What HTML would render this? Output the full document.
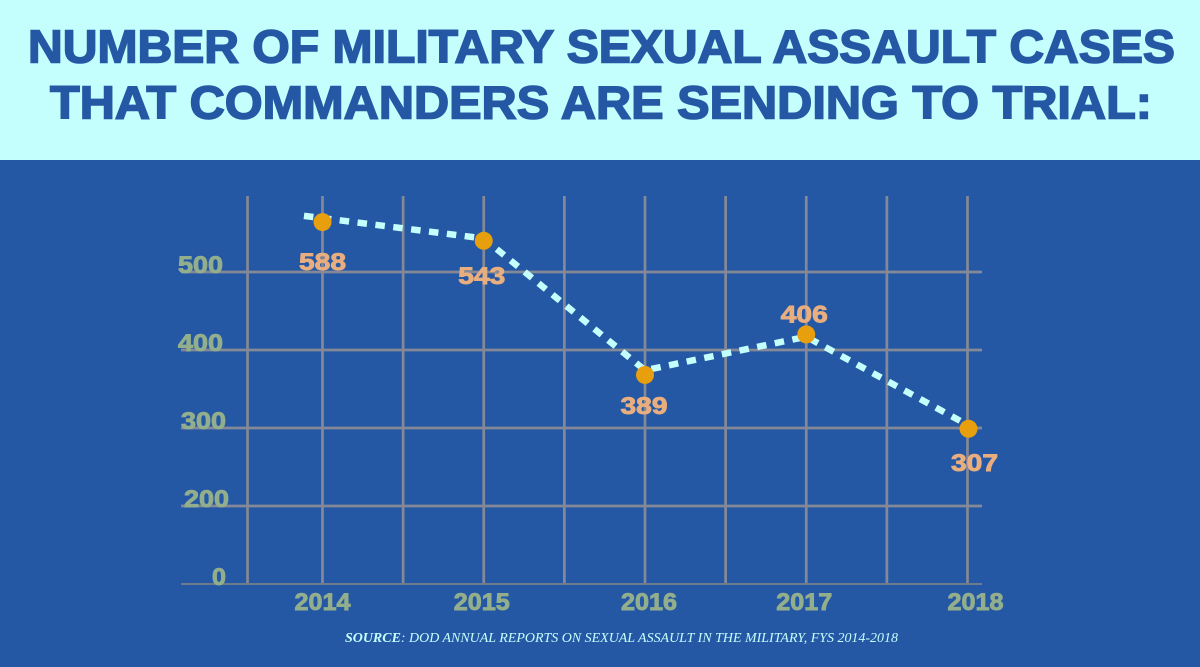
<!DOCTYPE html>
<html lang="en">
<head>
<meta charset="utf-8">
<title>Number of military sexual assault cases that commanders are sending to trial</title>
<style>
html,body{margin:0;padding:0;background:#2458a4;}
body{width:1200px;height:667px;overflow:hidden;}
svg{display:block;}
text{font-family:"Liberation Sans",sans-serif;}
</style>
</head>
<body>
<svg id="chart" width="1200" height="667" viewBox="0 0 1200 667" xmlns="http://www.w3.org/2000/svg">
  <rect x="0" y="0" width="1200" height="667" fill="#2458a4"/>
  <rect x="0" y="0" width="1200" height="160" fill="#c4fefd"/>
  <text x="28" y="62.5" font-size="46.5" font-weight="700" fill="#2458a4" stroke="#2458a4" stroke-width="1.6" textLength="1147" lengthAdjust="spacingAndGlyphs">NUMBER OF MILITARY SEXUAL ASSAULT CASES</text>
  <text x="50" y="118.5" font-size="46.5" font-weight="700" fill="#2458a4" stroke="#2458a4" stroke-width="1.6" textLength="1102" lengthAdjust="spacingAndGlyphs">THAT COMMANDERS ARE SENDING TO TRIAL:</text>
  <g id="grid"></g>
  <g id="series"></g>
  <g id="labels"></g>
  <text x="345" y="642" font-size="13.2" fill="#c4fefd" font-style="italic" textLength="553" lengthAdjust="spacingAndGlyphs" style="font-family:'Liberation Serif',serif"><tspan font-weight="700">SOURCE</tspan>: DOD ANNUAL REPORTS ON SEXUAL ASSAULT IN THE MILITARY, FYS 2014-2018</text>
</svg>
<script>
const years = [2014, 2015, 2016, 2017, 2018];
const printedValues = [588, 543, 389, 406, 307];
const dotValues = [564, 540, 368, 420, 299];
const lineYears = [2013.885, 2015, 2016, 2017, 2018];
const lineValues = [572, 543, 374, 417, 304];
const yGridValues = [500, 400, 300, 200, 100];
const yTickLabels = ["500", "400", "300", "200", "0"];
const xGridYears = [2013.535, 2014, 2014.5, 2015, 2015.5, 2016, 2016.5, 2017, 2017.5, 2018];
const labelSides = ["below", "below", "below", "above", "below"];

const NS = "http://www.w3.org/2000/svg";
const xScale = function (year) { return 322.5 + (year - 2014) * 161.25; };
const yScale = function (value) { return 272 + (500 - value) * 0.78; };
const gridG = document.getElementById("grid");
const seriesG = document.getElementById("series");
const labelsG = document.getElementById("labels");

function make(tag, parent, attrs, text) {
  const el = document.createElementNS(NS, tag);
  Object.keys(attrs).forEach(function (k) { el.setAttribute(k, attrs[k]); });
  if (text !== undefined) { el.textContent = text; }
  parent.appendChild(el);
  return el;
}

xGridYears.forEach(function (yr) {
  const x = xScale(yr);
  const el = make("line", gridG, { x1: x, x2: x, y1: 196, y2: yScale(100) + 1, stroke: "#858997", "stroke-width": 2.7 });
  
  
});

yGridValues.forEach(function (v, i) {
  const y = yScale(v);
  const isBase = i === yGridValues.length - 1;
  const el = make("line", gridG, { x1: 181, x2: 982, y1: y, y2: y, stroke: isBase ? "#6f7a8a" : "#858997", "stroke-width": isBase ? 2 : 2.7 });
  
  
});

const pathD = lineYears.map(function (yr, i) {
  return (i ? "L" : "M") + xScale(yr) + " " + yScale(lineValues[i]);
}).join(" ");
const seriesLine = make("path", seriesG, { d: pathD, fill: "none", stroke: "#c4fefd", "stroke-width": 6.5, "stroke-dasharray": "9.5 8.5" });



years.forEach(function (yr, i) {
  const dot = make("circle", seriesG, { cx: xScale(yr) + (i === 4 ? 1 : 0), cy: yScale(dotValues[i]), r: 9, fill: "#e89f0e" });
  
  
});

const boldText = function (parent, attrs, txt, color) {
  const base = { "font-size": 24.5, "font-weight": 700, fill: color, stroke: color, "stroke-width": 0.9, lengthAdjust: "spacingAndGlyphs" };
  Object.keys(attrs).forEach(function (k) { base[k] = attrs[k]; });
  return make("text", parent, base, txt);
};

const tickLeft = function (i) { return i < 2 ? 178 : (i === 2 ? 181 : (i === 3 ? 184 : 212)); };
yTickLabels.forEach(function (t, i) {
  const el = boldText(labelsG, { x: tickLeft(i), y: yScale(yGridValues[i]) + 1, textLength: t.length > 1 ? 45 : 14 }, t, "#93ae8c");
  
  
});

const yearNudge = function (i) { return i === 2 ? 4 : (i === 4 ? 8 : (i === 1 ? -2 : (i === 3 ? -2 : 0))); };
years.forEach(function (yr, i) {
  const el = boldText(labelsG, { x: xScale(yr) + yearNudge(i) - 28, y: 610, textLength: 56 }, String(yr), "#93ae8c");
  
  
});

const labelNudgeY = function (i) { return i === 0 ? 6 : (i === 1 ? 1 : (i === 2 ? -3 : 0)); };
const labelNudgeX = function (i) { return i === 4 ? 7 : (i === 1 ? -2 : (i === 3 ? -2 : (i === 2 ? -1 : 0))); };
printedValues.forEach(function (v, i) {
  const dy = labelSides[i] === "above" ? -12 : 42;
  const el = boldText(labelsG, { x: xScale(years[i]) + labelNudgeX(i) - 23.5, y: yScale(dotValues[i]) + dy + labelNudgeY(i), textLength: 47 }, String(v), "#e9ae7f");
  
  
});
</script>
</body>
</html>
